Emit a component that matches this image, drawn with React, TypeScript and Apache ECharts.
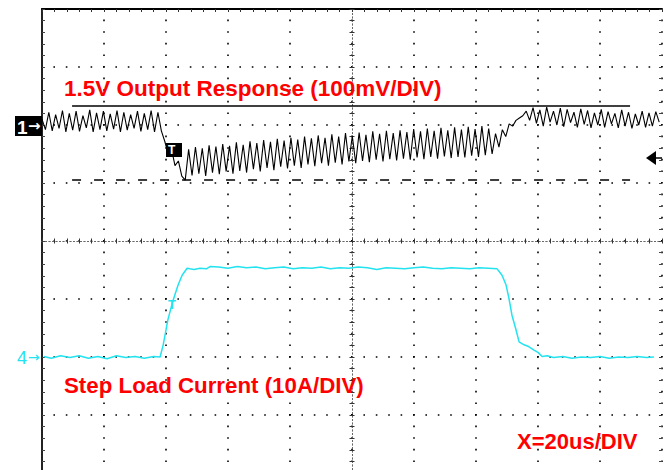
import React, { useEffect, useRef } from 'react';
import * as echarts from 'echarts';

// ---- Time base: 10 divisions x 20 us ----
const TIME_RANGE_US = [0, 200];
const TIME_DIV_US = 20;

// ---- Channel 1 (1.5V output, 100 mV/div), AC ripple in mV relative to its marker ----
const CH1_RANGE_MV = [-600, 200];
const CH1_DIV_MV = 100;
const CH1_SAMPLE_US = 1.1;
const ch1PreStep = [
  10, -8, 22, -10, 18, -6, 25, -12, 20, -9,
  24, -11, 16, -5, 26, -12, 21, -8, 24, -10,
  19, -7, 25, -12, 22, -9, 18, -6, 24, -11,
  20, -8, 25, -12, 22, -10,
];
const ch1Drop = [-28, -50, -42, -70, -62, -88, -95];
const ch1Droop = [
  -42, -87, -38, -84, -40, -88, -35, -82, -37, -85,
  -33, -80, -36, -84, -30, -79, -34, -82, -28, -76,
  -31, -80, -26, -74, -29, -78, -24, -72, -27, -75,
  -22, -70, -25, -74, -20, -68, -23, -71, -18, -66,
  -22, -70, -16, -65, -20, -68, -14, -63, -19, -66,
  -13, -62, -17, -64, -11, -60, -15, -63, -10, -59,
  -14, -61, -9, -58, -12, -60, -7, -56, -11, -59,
  -6, -55, -10, -58, -5, -54, -9, -57, -4, -55,
  -8, -56, -3, -53, -7, -55, -2, -52, -6,
];
const ch1Recovery = [-50, -15, -38, -8, -20, 2, -2, 8, 12, 16, 24, 8];
const ch1Settled = [
  30, 3, 26, -2, 31, 5, 24, 0, 29, -3,
  27, 4, 22, -4, 28, 1, 25, -5, 21, 0,
  27, -4, 23, 2, 20, -5, 26, -2, 22, -6,
  19, 0, 24, -4, 21, -2, 23, 5,
];
// cursors (max / min of the response)
const ch1CursorLevelsMv = [34, -95];
const ch1CursorSpanUs = [9.7, 189.7];

// ---- Channel 4 (step load current, 10 A/div) ----
const CH4_RANGE_A = [-20, 60];
const CH4_DIV_A = 10;
const ch4TimesUs = [
  0.6, 3, 6, 9, 12, 15, 18, 21, 24, 27, 30, 33, 36, 38.1,
  39.1, 40.6, 42.3, 43.9, 45.2, 46.8, 47.7, 49, 51, 53, 54.2,
  57, 60, 63, 66, 69, 72, 75, 78, 81, 84, 87, 90, 93, 96, 99,
  102, 105, 108, 111, 114, 117, 120, 123, 126, 129, 132, 135, 138, 141, 144,
  146.8, 148.4, 149.7, 150.6, 151.6, 152.9, 153.9, 155.5, 157, 158.7, 160, 161.3,
  163, 165, 168, 171, 174, 177, 180, 183, 186, 189, 192, 195, 197.4,
];
const ch4Amps = [
  0.1, -0.2, 0.2, -0.1, 0.2, -0.2, 0.1, -0.3, 0.2, -0.1, 0.1, -0.2, 0.1, 0,
  2.1, 6.4, 9.8, 12.4, 14.1, 15.3, 15.2, 15.1, 15.3, 15.2, 15.6,
  15.5, 15.3, 15.6, 15.4, 15.5, 15.2, 15.4, 15.5, 15.2, 15.4, 15.3, 15.5, 15.2, 15.4, 15.3,
  15.5, 15.4, 15.1, 15.4, 15.3, 15.2, 15.4, 15.5, 15.3, 15.2, 15.4, 15.3, 15.2, 15.4, 15.3,
  15.2, 14.1, 12.4, 10.2, 7.2, 4.7, 2.6, 2.1, 1.8, 1.2, 0.8, 0.1,
  0.2, -0.1, 0.1, -0.2, 0, -0.1, 0.1, -0.2, 0, -0.1, 0.1, -0.1, 0,
];

// ---- Texts ----
const titleCh1 = '1.5V Output Response (100mV/DIV)';
const titleCh4 = 'Step Load Current (10A/DIV)';
const timebaseText = 'X=20us/DIV';

const RED = '#ff0000';
const CYAN = '#22e3ef';
const FONT = '"Liberation Sans", Arial, sans-serif';

const GRID = { left: 42, top: 9, width: 620, height: 464 };

function buildOption() {
  const ch1Mv = [...ch1PreStep, ...ch1Drop, ...ch1Droop, ...ch1Recovery, ...ch1Settled];
  const ch1Data = ch1Mv.map((v, i) => [Math.round(i * CH1_SAMPLE_US * 100) / 100, v]);
  const ch4Data = ch4TimesUs.map((t, i) => [t, ch4Amps[i]]);

  const hidden = { show: false };
  const centerLine = { show: true, onZero: true, lineStyle: { color: '#666', width: 1, type: [1, 2.5] } };
  const centerTick = { show: true, inside: false, length: 2.5, lineStyle: { color: '#333', width: 1 } };
  const centerMinor = { show: true, splitNumber: 5, length: 2.5, lineStyle: { color: '#333', width: 1 } };

  return {
    animation: false,
    backgroundColor: '#fff',
    grid: [
      { ...GRID, outerBoundsMode: 'none', containLabel: false },
      { ...GRID, outerBoundsMode: 'none', containLabel: false },
    ],
    xAxis: [
      {
        gridIndex: 0, type: 'value', position: 'top',
        min: TIME_RANGE_US[0], max: TIME_RANGE_US[1], interval: TIME_DIV_US,
        axisLine: { show: true, onZero: false, lineStyle: { color: '#000', width: 2 } },
        axisTick: { show: true, inside: true, length: 3, lineStyle: { color: '#333' } },
        minorTick: { show: true, splitNumber: 5, length: 3, lineStyle: { color: '#333' } },
        axisLabel: hidden,
        splitLine: { show: true, lineStyle: { color: '#000', width: 1.6, type: [1.6, 10], dashOffset: 0.8 } },
      },
      {
        gridIndex: 1, type: 'value', position: 'bottom', min: -5, max: 5, interval: 1,
        axisLine: centerLine, axisTick: centerTick, minorTick: centerMinor,
        axisLabel: hidden, splitLine: hidden,
      },
      {
        gridIndex: 1, type: 'value', position: 'top', min: -5, max: 5, interval: 1,
        axisLine: centerLine, axisTick: centerTick, minorTick: centerMinor,
        axisLabel: hidden, splitLine: hidden,
      },
    ],
    yAxis: [
      {
        gridIndex: 0, type: 'value', position: 'left',
        min: CH1_RANGE_MV[0], max: CH1_RANGE_MV[1], interval: CH1_DIV_MV,
        axisLine: { show: true, onZero: false, lineStyle: { color: '#222', width: 2 } },
        axisTick: { show: true, inside: true, length: 3, lineStyle: { color: '#444' } },
        minorTick: { show: true, splitNumber: 5, length: 3, lineStyle: { color: '#444' } },
        axisLabel: hidden,
        splitLine: { show: true, lineStyle: { color: '#000', width: 1.6, type: [1.6, 10.8], dashOffset: 0.8 } },
      },
      {
        gridIndex: 0, type: 'value', position: 'right',
        min: CH4_RANGE_A[0], max: CH4_RANGE_A[1], interval: CH4_DIV_A,
        axisLine: { show: false, onZero: false },
        axisTick: { show: true, inside: true, length: 3, lineStyle: { color: '#444' } },
        minorTick: { show: true, splitNumber: 5, length: 3, lineStyle: { color: '#444' } },
        axisLabel: hidden, splitLine: hidden,
      },
      {
        gridIndex: 1, type: 'value', position: 'left', min: -4, max: 4, interval: 1,
        axisLine: centerLine, axisTick: centerTick, minorTick: centerMinor,
        axisLabel: hidden, splitLine: hidden,
      },
      {
        gridIndex: 1, type: 'value', position: 'right', min: -4, max: 4, interval: 1,
        axisLine: centerLine, axisTick: centerTick, minorTick: centerMinor,
        axisLabel: hidden, splitLine: hidden,
      },
    ],
    series: [
      {
        name: 'CH1', type: 'line', xAxisIndex: 0, yAxisIndex: 0,
        data: ch1Data, showSymbol: false, symbol: 'none', silent: true, z: 3,
        lineStyle: { color: '#000', width: 1.1 },
        markLine: {
          silent: true, symbol: ['none', 'none'], label: { show: false }, animation: false,
          emphasis: { disabled: true },
          data: [
            [
              { coord: [ch1CursorSpanUs[0], ch1CursorLevelsMv[0]], lineStyle: { color: '#000', width: 1.5, type: 'solid' } },
              { coord: [ch1CursorSpanUs[1], ch1CursorLevelsMv[0]] },
            ],
            [
              { coord: [ch1CursorSpanUs[0], ch1CursorLevelsMv[1]], lineStyle: { color: '#000', width: 1.5, type: [9, 13] } },
              { coord: [ch1CursorSpanUs[1], ch1CursorLevelsMv[1]] },
            ],
          ],
        },
      },
      {
        name: 'CH4', type: 'line', xAxisIndex: 0, yAxisIndex: 1,
        data: ch4Data, showSymbol: false, symbol: 'none', silent: true, z: 3,
        lineStyle: { color: CYAN, width: 1.5 },
      },
    ],
    graphic: [
      // channel 1 marker
      { type: 'rect', z: 100, shape: { x: 15, y: 116, width: 27, height: 20 }, style: { fill: '#000' } },
      { type: 'text', z: 101, x: 17, y: 127, style: { text: '1', fill: '#fff', fontSize: 19, fontWeight: 'bold', fontFamily: FONT, verticalAlign: 'middle', textVerticalAlign: 'middle' } },
      { type: 'text', z: 101, x: 28, y: 126, style: { text: '→', fill: '#fff', fontSize: 15, fontWeight: 'bold', fontFamily: '"DejaVu Sans", sans-serif', verticalAlign: 'middle', textVerticalAlign: 'middle' } },
      // channel 4 marker
      { type: 'text', z: 101, x: 17, y: 358, style: { text: '4', fill: CYAN, fontSize: 18, fontFamily: FONT, verticalAlign: 'middle', textVerticalAlign: 'middle' } },
      { type: 'text', z: 101, x: 28, y: 357, style: { text: '→', fill: CYAN, fontSize: 14, fontFamily: '"DejaVu Sans", sans-serif', verticalAlign: 'middle', textVerticalAlign: 'middle' } },
      // trigger markers
      { type: 'rect', z: 100, shape: { x: 166, y: 143, width: 16, height: 14 }, style: { fill: '#000' } },
      { type: 'text', z: 101, x: 168, y: 150, style: { text: 'T', fill: '#fff', fontSize: 12, fontWeight: 'bold', fontFamily: FONT, verticalAlign: 'middle', textVerticalAlign: 'middle' } },
      { type: 'text', z: 101, x: 168, y: 304, style: { text: 'T', fill: CYAN, fontSize: 13, fontWeight: 'bold', fontFamily: FONT, verticalAlign: 'middle', textVerticalAlign: 'middle' } },
      { type: 'polygon', z: 100, shape: { points: [[646, 158], [656, 151], [656, 165]] }, style: { fill: '#000' } },
      { type: 'line', z: 100, shape: { x1: 655, y1: 158, x2: 662, y2: 158 }, style: { stroke: '#000', lineWidth: 1.5 } },
      // annotations
      { type: 'text', z: 101, x: 64, y: 88, style: { text: titleCh1, fill: RED, fontSize: 22.5, fontWeight: 'bold', fontFamily: FONT, verticalAlign: 'middle', textVerticalAlign: 'middle' } },
      { type: 'text', z: 101, x: 64, y: 385, style: { text: titleCh4, fill: RED, fontSize: 22.3, fontWeight: 'bold', fontFamily: FONT, verticalAlign: 'middle', textVerticalAlign: 'middle' } },
      { type: 'text', z: 101, x: 517, y: 441, style: { text: timebaseText, fill: RED, fontSize: 22, fontWeight: 'bold', fontFamily: FONT, verticalAlign: 'middle', textVerticalAlign: 'middle' } },
    ],
  };
}

export default function App() {
  const ref = useRef<HTMLDivElement>(null);
  useEffect(() => {
    if (!ref.current) return;
    const chart = echarts.init(ref.current, null, { renderer: 'svg' });
    chart.setOption(buildOption() as any);
    return () => chart.dispose();
  }, []);
  return (
    <div
      ref={ref}
      style={{ position: 'fixed', left: 0, top: 0, width: 668, height: 470, background: '#fff' }}
    />
  );
}
